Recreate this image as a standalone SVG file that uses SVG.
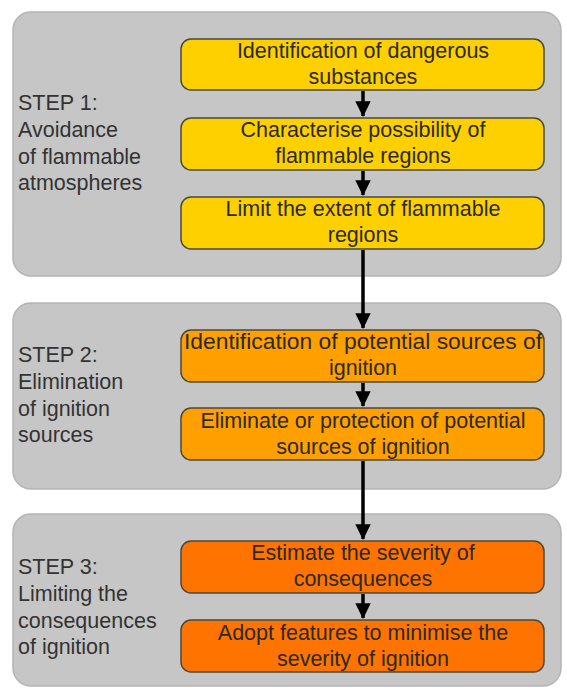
<svg xmlns="http://www.w3.org/2000/svg" width="567" height="688" viewBox="0 0 567 688">
<style>
.panel{fill:#c6c6c6;stroke:#b4b4b4;stroke-width:1.5}
.box{stroke:#4a4a3a;stroke-width:1.5}
.y{fill:#ffd000}.o{fill:#ffa000}.d{fill:#ff7300}
.bt{font-family:"Liberation Sans",Arial,sans-serif;font-size:21.5px;fill:#2a2a2a;text-anchor:middle}
.lt{font-family:"Liberation Sans",Arial,sans-serif;font-size:21.5px;fill:#333}
.con{stroke:#000;stroke-width:3.5;fill:none}
</style>
<defs>
<marker id="ah" markerWidth="5" markerHeight="5" refX="4.2" refY="2.5" orient="auto" markerUnits="strokeWidth">
<path d="M0,0.3 L4.5,2.5 L0,4.7 Z" fill="#000"/>
</marker>
</defs>
<g id="panel1"><rect class="panel" x="13" y="12" width="548" height="264" rx="18"/>
<text class="lt" x="18"><tspan x="18" y="110">STEP 1:</tspan><tspan x="18" y="137">Avoidance</tspan><tspan x="18" y="164">of flammable</tspan><tspan x="18" y="190">atmospheres</tspan></text></g>
<g id="panel2"><rect class="panel" x="13" y="303" width="548" height="186" rx="18"/>
<text class="lt"><tspan x="18" y="362">STEP 2:</tspan><tspan x="18" y="389">Elimination</tspan><tspan x="18" y="416">of ignition</tspan><tspan x="18" y="442">sources</tspan></text></g>
<g id="panel3"><rect class="panel" x="13" y="514" width="548" height="172" rx="18"/>
<text class="lt"><tspan x="18" y="574">STEP 3:</tspan><tspan x="18" y="601">Limiting the</tspan><tspan x="18" y="628">consequences</tspan><tspan x="18" y="654">of ignition</tspan></text></g>
<g id="connectors">
<line class="con" x1="363" y1="91" x2="363" y2="116" marker-end="url(#ah)"/>
<line class="con" x1="363" y1="171" x2="363" y2="195" marker-end="url(#ah)"/>
<line class="con" x1="363" y1="250" x2="363" y2="328" marker-end="url(#ah)"/>
<line class="con" x1="363" y1="383" x2="363" y2="406" marker-end="url(#ah)"/>
<line class="con" x1="363" y1="461" x2="363" y2="539" marker-end="url(#ah)"/>
<line class="con" x1="363" y1="594" x2="363" y2="618" marker-end="url(#ah)"/>
</g>
<g id="n1"><rect class="box y" x="181" y="39" width="363" height="51" rx="10"/><text class="bt"><tspan x="363" y="58">Identification of dangerous</tspan><tspan x="363" y="84">substances</tspan></text></g>
<g id="n2"><rect class="box y" x="181" y="118" width="363" height="52" rx="10"/><text class="bt"><tspan x="363" y="137">Characterise possibility of</tspan><tspan x="363" y="163">flammable regions</tspan></text></g>
<g id="n3"><rect class="box y" x="181" y="197" width="363" height="52" rx="10"/><text class="bt"><tspan x="363" y="216">Limit the extent of flammable</tspan><tspan x="363" y="242">regions</tspan></text></g>
<g id="n4"><rect class="box o" x="181" y="330" width="363" height="52" rx="10"/><text class="bt"><tspan x="363" y="349" textLength="358" lengthAdjust="spacingAndGlyphs">Identification of potential sources of</tspan><tspan x="363" y="375">ignition</tspan></text></g>
<g id="n5"><rect class="box o" x="181" y="408" width="363" height="52" rx="10"/><text class="bt"><tspan x="363" y="428">Eliminate or protection of potential</tspan><tspan x="363" y="454">sources of ignition</tspan></text></g>
<g id="n6"><rect class="box d" x="181" y="541" width="363" height="52" rx="10"/><text class="bt"><tspan x="363" y="560">Estimate the severity of</tspan><tspan x="363" y="586">consequences</tspan></text></g>
<g id="n7"><rect class="box d" x="181" y="620" width="363" height="52" rx="10"/><text class="bt"><tspan x="363" y="640">Adopt features to minimise the</tspan><tspan x="363" y="666">severity of ignition</tspan></text></g>
</svg>
